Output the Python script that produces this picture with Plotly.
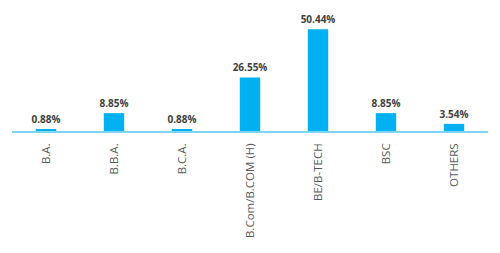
import plotly.graph_objects as go

categories = ["B.A.", "B.B.A.", "B.C.A.", "B.Com/B.COM (H)", "BE/B-TECH", "BSC", "OTHERS"]
values = [0.88, 8.85, 0.88, 26.55, 50.44, 8.85, 3.54]
labels = [f"{v:.2f}%" for v in values]

fig = go.Figure(go.Bar(
    x=categories, y=values, text=labels, textposition="outside",
    constraintext="none",
    marker=dict(color="#00b0f0", line=dict(width=0)),
    textfont=dict(family="Open Sans", size=10, color="#404040", weight="bold"),
    cliponaxis=False, width=0.3,
))
fig.update_layout(
    width=500, height=253, margin=dict(l=12, r=12, t=10, b=122),
    paper_bgcolor="white", plot_bgcolor="white", showlegend=False,
    xaxis=dict(tickangle=-90, showline=True, linecolor="#7fd3f5", linewidth=1.5,
               ticks="", ticklabelstandoff=6,
               tickfont=dict(family="Open Sans", size=11.5, color="#595959"),
               showgrid=False),
    yaxis=dict(visible=False, range=[0, 60], showgrid=False, zeroline=False),
)
fig.write_html("out.html")
